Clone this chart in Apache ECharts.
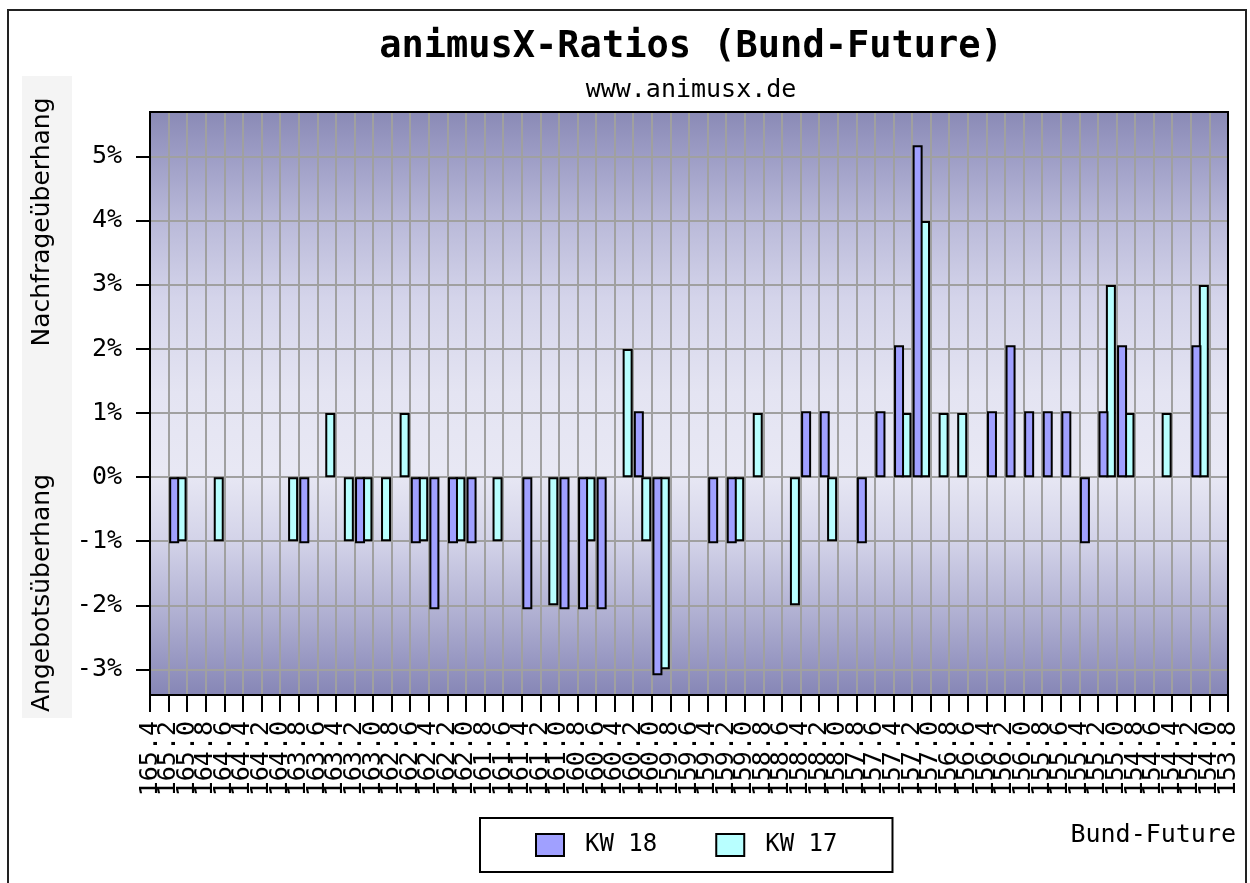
<!DOCTYPE html>
<html>
<head>
<meta charset="utf-8">
<script src="https://cdn.jsdelivr.net/npm/echarts@6/dist/echarts.min.js"></script>
<style>
html,body{margin:0;padding:0;background:#fff;}
#chart{width:1250px;height:883px;}
</style>
</head>
<body>
<div id="chart"></div>
<script>
// Tick labels at column boundaries (price levels)
const tickLabels = ['165.4','165.2','165.0','164.8','164.6','164.4','164.2','164.0',
  '163.8','163.6','163.4','163.2','163.0','162.8','162.6','162.4','162.2','162.0',
  '161.8','161.6','161.4','161.2','161.0','160.8','160.6','160.4','160.2','160.0',
  '159.8','159.6','159.4','159.2','159.0','158.8','158.6','158.4','158.2','158.0',
  '157.8','157.6','157.4','157.2','157.0','156.8','156.6','156.4','156.2','156.0',
  '155.8','155.6','155.4','155.2','155.0','154.8','154.6','154.4','154.2','154.0','153.8'];

// One category per price band between two ticks
const categories = tickLabels.slice(0, -1).map((t, i) => t + '-' + tickLabels[i + 1]);

// KW 18 (values in %)
const kw18 = [null,-1.03,null,null,null,null,null,null,-1.03,null,
  null,-1.03,null,null,-1.03,-2.06,-1.03,-1.03,null,null,
  -2.06,null,-2.06,-2.06,-2.06,null,1.03,-3.09,null,null,
  -1.03,-1.03,null,null,null,1.03,1.03,null,-1.03,1.03,
  2.06,5.18,null,null,null,1.03,2.06,1.03,1.03,1.03,
  -1.03,1.03,2.06,null,null,null,2.06,null];

// KW 17 (values in %)
const kw17 = [null,-1,null,-1,null,null,null,-1,null,1,
  -1,-1,-1,1,-1,null,-1,null,-1,null,
  null,-2,null,-1,null,2,-1,-3,null,null,
  null,-1,1,null,-2,null,-1,null,null,null,
  1,4,1,1,null,null,null,null,null,null,
  null,3,1,null,1,null,3,null];

const yTicks = [-3,-2,-1,0,1,2,3,4,5];

const MONO = '"DejaVu Sans Mono", "Liberation Mono", monospace';
const SANS = '"DejaVu Sans", Verdana, sans-serif';

const chart = echarts.init(document.getElementById('chart'));

const option = {
  backgroundColor: '#ffffff',
  animation: false,
  title: {
    text: 'animusX-Ratios (Bund-Future)',
    subtext: 'www.animusx.de',
    left: 686,
    textAlign: 'center',
    top: 24,
    itemGap: 12,
    textStyle: { fontFamily: MONO, fontSize: 37, fontWeight: 'bold', color: '#000' },
    subtextStyle: { fontFamily: MONO, fontSize: 25, color: '#000' }
  },
  legend: {
    data: ['KW 18', 'KW 17'],
    left: 480,
    top: 818,
    orient: 'horizontal',
    backgroundColor: '#fff',
    borderColor: '#000',
    borderWidth: 2,
    padding: [15, 55, 15, 55],
    itemGap: 58,
    itemWidth: 28,
    itemHeight: 22,
    icon: 'rect',
    itemStyle: { borderColor: '#000', borderWidth: 2 },
    textStyle: { fontFamily: MONO, fontSize: 24, color: '#000', padding: [0, 0, 0, 16] }
  },
  grid: {
    left: 150, right: 22, top: 112, bottom: 188,
    show: true,
    borderWidth: 0,
    backgroundColor: new echarts.graphic.LinearGradient(0, 0, 0, 1, [
      { offset: 0, color: '#8a8ab6' },
      { offset: 0.08, color: '#9e9ec6' },
      { offset: 0.18, color: '#b8b8d8' },
      { offset: 0.32, color: '#d4d4ea' },
      { offset: 0.48, color: '#e4e4f2' },
      { offset: 0.62, color: '#e8e8f4' },
      { offset: 0.74, color: '#d2d2e8' },
      { offset: 0.86, color: '#b0b0d2' },
      { offset: 1, color: '#8686b6' }
    ])
  },
  xAxis: [
    {
      type: 'category',
      data: categories,
      position: 'bottom',
      show: false
    },
    {
      type: 'category',
      data: tickLabels,
      boundaryGap: false,
      position: 'bottom',
      axisLine: { show: true, lineStyle: { color: '#000', width: 2 } },
      axisTick: { show: true, length: 17, interval: 0, lineStyle: { color: '#000', width: 2 } },
      axisLabel: { interval: 0, rotate: 90, margin: 26, fontFamily: MONO, fontSize: 25, color: '#000' },
      splitLine: { show: true, interval: 0, lineStyle: { color: '#a0a0a0', width: 2 } }
    }
  ],
  yAxis: {
    type: 'value',
    min: -3.4,
    max: 5.7,
    axisLine: { show: true, lineStyle: { color: '#000', width: 2 } },
    axisTick: { show: true, length: 14, customValues: yTicks, lineStyle: { color: '#000', width: 2 } },
    axisLabel: { customValues: yTicks, margin: 28, fontFamily: MONO, fontSize: 25, color: '#000',
      formatter: v => v + '%' },
    splitLine: { show: true, lineStyle: { color: '#a0a0a0', width: 2 } }
  },
  series: [
    {
      name: 'KW 18',
      type: 'bar',
      xAxisIndex: 0,
      data: kw18,
      barWidth: 10,
      barGap: '-26%',
      z: 3,
      itemStyle: { color: '#a0a0ff', borderColor: '#000', borderWidth: 2 }
    },
    {
      name: 'KW 17',
      type: 'bar',
      xAxisIndex: 0,
      data: kw17,
      barWidth: 10,
      barGap: '-26%',
      z: 2,
      itemStyle: { color: '#b8ffff', borderColor: '#000', borderWidth: 2 }
    }
  ],
  graphic: [
    { type: 'rect', z: -1, shape: { x: 8, y: 10, width: 1238, height: 900 },
      style: { fill: 'none', stroke: '#222', lineWidth: 2 } },
    { type: 'rect', z: -1, shape: { x: 22, y: 76, width: 50, height: 642 },
      style: { fill: '#f4f4f4' } },
    { type: 'text', z: 5, x: 42, y: 222, rotation: Math.PI / 2,
      style: { text: 'Nachfrageüberhang', font: '25px ' + SANS, fill: '#000',
        align: 'center', verticalAlign: 'middle' } },
    { type: 'text', z: 5, x: 42, y: 593, rotation: Math.PI / 2,
      style: { text: 'Angebotsüberhang', font: '25px ' + SANS, fill: '#000',
        align: 'center', verticalAlign: 'middle' } },
    { type: 'text', z: 5, x: 1236, y: 835,
      style: { text: 'Bund-Future', font: '25px ' + MONO, fill: '#000',
        align: 'right', verticalAlign: 'middle' } },
    { type: 'rect', z: 50, shape: { x: 150, y: 112, width: 1078, height: 583 },
      style: { fill: 'none', stroke: '#000', lineWidth: 2 } }
  ]
};

chart.setOption(option);
</script>
</body>
</html>
